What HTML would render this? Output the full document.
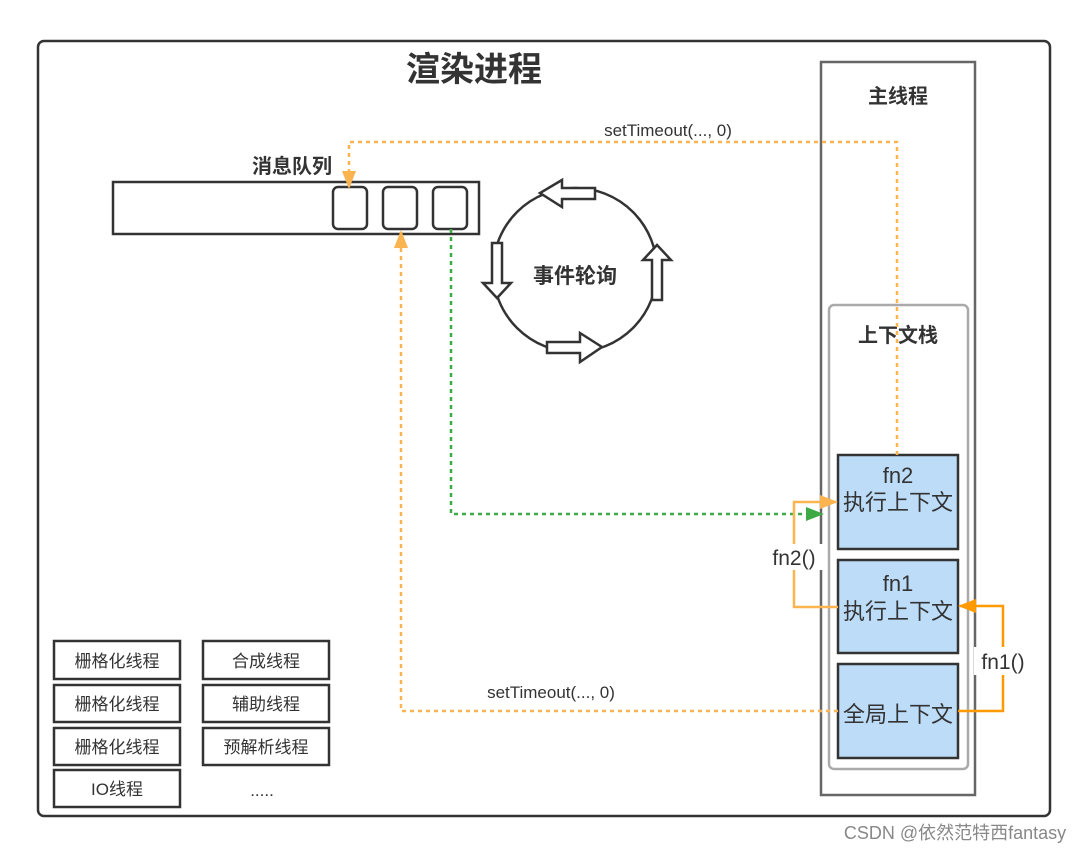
<!DOCTYPE html>
<html><head><meta charset="utf-8"><style>
html,body{margin:0;padding:0;background:#fff;}
svg text{font-family:"Liberation Sans","Noto Sans CJK SC",sans-serif;fill:#333;}
</style></head><body>
<svg width="1087" height="853" viewBox="0 0 1087 853" xmlns="http://www.w3.org/2000/svg">
<defs>
<marker id="ao2" markerWidth="18" markerHeight="14" refX="16" refY="7" orient="auto" markerUnits="userSpaceOnUse"><path d="M0,0 L18,7 L0,14 Z" fill="#fbb450"/></marker>
<marker id="ag" markerWidth="18" markerHeight="14" refX="16" refY="7" orient="auto" markerUnits="userSpaceOnUse"><path d="M0,0 L18,7 L0,14 Z" fill="#3daa45"/></marker>
<marker id="ad" markerWidth="18" markerHeight="14" refX="16" refY="7" orient="auto" markerUnits="userSpaceOnUse"><path d="M0,0 L18,7 L0,14 Z" fill="#ff9a00"/></marker>
</defs>
<rect x="38" y="41" width="1012" height="775" rx="6" fill="#fff" stroke="#333" stroke-width="2.5"/>
<text x="474" y="81" font-size="34" font-weight="bold" text-anchor="middle">渲染进程</text>
<rect x="821" y="62" width="154" height="733" fill="none" stroke="#666" stroke-width="2.5"/>
<text x="898" y="103" font-size="20" font-weight="bold" text-anchor="middle">主线程</text>
<rect x="829" y="305" width="139" height="464" rx="5" fill="none" stroke="#aaa" stroke-width="2.5"/>
<text x="898" y="342" font-size="20" font-weight="bold" text-anchor="middle">上下文栈</text>
<g stroke="#333" stroke-width="2.5" fill="#bcdcf8">
<rect x="838" y="455" width="120" height="94"/>
<rect x="838" y="560" width="120" height="93"/>
<rect x="838" y="664" width="120" height="94"/>
</g>
<g font-size="22" text-anchor="middle">
<text x="898" y="483">fn2</text><text x="898" y="510">执行上下文</text>
<text x="898" y="591">fn1</text><text x="898" y="619">执行上下文</text>
<text x="898" y="722">全局上下文</text>
</g>
<rect x="113" y="182" width="366" height="52" fill="#fff" stroke="#333" stroke-width="2.5"/>
<g fill="#fff" stroke="#333" stroke-width="2.5">
<rect x="333" y="187" width="34" height="42" rx="5"/>
<rect x="383" y="187" width="34" height="42" rx="5"/>
<rect x="433" y="187" width="34" height="42" rx="5"/>
</g>
<text x="292" y="173" font-size="20" font-weight="bold" text-anchor="middle">消息队列</text>
<circle cx="575" cy="270" r="82" fill="none" stroke="#333" stroke-width="2.5"/>
<g fill="#fff" stroke="#333" stroke-width="2.5">
<path d="M595,188 L562,188 L562,180 L540,193 L562,207 L562,199 L595,199 Z"/>
<path d="M492,243 L492,283 L483,283 L497,298 L511,283 L502,283 L502,243 Z"/>
<path d="M652,300 L652,260 L643,260 L657,245 L671,260 L662,260 L662,300 Z"/>
<path d="M547,342 L580,342 L580,333 L602,347 L580,362 L580,353 L547,353 Z"/>
</g>
<text x="575" y="283" font-size="21" font-weight="bold" text-anchor="middle">事件轮询</text>
<g fill="none" stroke-width="2.5" stroke-dasharray="4,4">
<path d="M897,455 L897,142 L349,142 L349,187" stroke="#fbb450" marker-end="url(#ao2)"/>
<path d="M838,711 L401,711 L401,232" stroke="#fbb450" marker-end="url(#ao2)"/>
<path d="M451,229 L451,514 L822,514" stroke="#3daa45" marker-end="url(#ag)"/>
</g>
<text x="668" y="136" font-size="17" text-anchor="middle">setTimeout(..., 0)</text>
<text x="551" y="698" font-size="17" text-anchor="middle">setTimeout(..., 0)</text>
<path d="M838,607 L794,607 L794,502 L836,502" fill="none" stroke="#fbb450" stroke-width="2.5" marker-end="url(#ao2)"/>
<rect x="764" y="544" width="60" height="26" fill="#fff"/>
<text x="794" y="565" font-size="21" text-anchor="middle">fn2()</text>
<path d="M958,711 L1003,711 L1003,606 L960,606" fill="none" stroke="#ff9a00" stroke-width="2.5" marker-end="url(#ad)"/>
<rect x="974" y="647" width="58" height="28" fill="#fff"/>
<text x="1003" y="669" font-size="21" text-anchor="middle">fn1()</text>
<g fill="#fff" stroke="#333" stroke-width="2.5">
<rect x="54" y="641" width="126" height="38"/>
<rect x="54" y="685" width="126" height="37"/>
<rect x="54" y="728" width="126" height="37"/>
<rect x="54" y="770" width="126" height="37"/>
<rect x="203" y="641" width="126" height="38"/>
<rect x="203" y="685" width="126" height="37"/>
<rect x="203" y="728" width="126" height="37"/>
</g>
<g font-size="17" text-anchor="middle">
<text x="117" y="667">栅格化线程</text>
<text x="117" y="710">栅格化线程</text>
<text x="117" y="753">栅格化线程</text>
<text x="117" y="795">IO线程</text>
<text x="266" y="667">合成线程</text>
<text x="266" y="710">辅助线程</text>
<text x="266" y="753">预解析线程</text>
<text x="262" y="796">.....</text>
</g>
<text x="955" y="839" font-size="18" text-anchor="middle" style="fill:#888">CSDN @依然范特西fantasy</text>
</svg>
</body></html>
